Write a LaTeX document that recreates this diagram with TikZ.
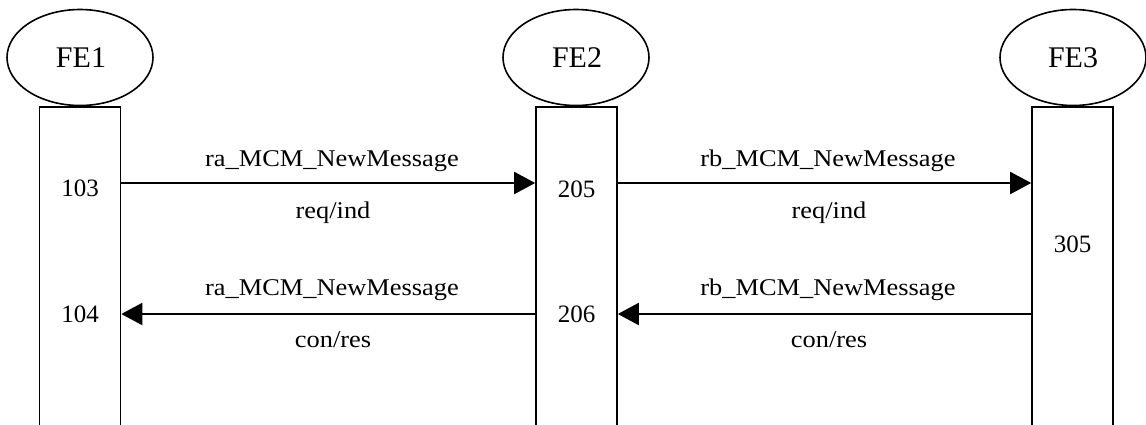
\documentclass[tikz,border=0pt]{standalone}
\usepackage{fontspec}
\setmainfont{Liberation Serif}
\usetikzlibrary{arrows.meta,shapes.geometric}
\begin{document}
\begin{tikzpicture}[x=1pt,y=-1pt,
  fe/.style={draw,ellipse,line width=1.6pt,minimum width=146pt,minimum height=96pt,inner sep=0pt},
  lane/.style={draw,line width=1.6pt,minimum width=81pt,minimum height=340pt,inner sep=0pt,anchor=north},
  fetext/.style={font=\fontsize{30}{30}\selectfont,anchor=base},
  num/.style={font=\fontsize{25}{25}\selectfont,anchor=base},
  lbl/.style={font=\fontsize{24}{24}\selectfont,anchor=base,xscale=1.1},
  msg/.style={line width=2pt,-{Triangle[length=21pt,width=22pt]}}]
\useasboundingbox (0,0) rectangle (1146,424);
\begin{scope}
\clip (0,0) rectangle (1146,424);
\node[lane] (L1) at (80,106) {};
\node[lane] (L2) at (576.5,106) {};
\node[lane] (L3) at (1072.5,106) {};
\end{scope}
\node[fe] (E1) at (80,57.5) {};
\node[fe] (E2) at (576,57.5) {};
\node[fe] (E3) at (1073,57.5) {};
\node[fetext] (T1) at (81,67) {FE1};
\node[fetext] (T2) at (577,67) {FE2};
\node[fetext] (T3) at (1073,67) {FE3};
\node[num] (n103) at (80,196) {103};
\node[num] (n104) at (80,322) {104};
\node[num] (n205) at (576.5,197) {205};
\node[num] (n206) at (576.5,322) {206};
\node[num] (n305) at (1072.5,252) {305};
\coordinate (a1) at (L1.east |- 0,183);
\coordinate (a2) at (L2.west |- 0,183);
\coordinate (b1) at (L2.east |- 0,183);
\coordinate (b2) at (L3.west |- 0,183);
\coordinate (c1) at (L2.west |- 0,314);
\coordinate (c2) at (L1.east |- 0,314);
\coordinate (d1) at (L3.west |- 0,314);
\coordinate (d2) at (L2.east |- 0,314);
\draw[msg] (a1) -- (a2);
\draw[msg] (b1) -- (b2);
\draw[msg] (c1) -- (c2);
\draw[msg] (d1) -- (d2);
\node[lbl] (m1) at (332,166) {ra\_MCM\_NewMessage};
\node[lbl] (m1b) at (333,218) {req/ind};
\node[lbl] (m2) at (828,166) {rb\_MCM\_NewMessage};
\node[lbl] (m2b) at (829,218) {req/ind};
\node[lbl] (m3) at (332,295) {ra\_MCM\_NewMessage};
\node[lbl] (m3b) at (333,347) {con/res};
\node[lbl] (m4) at (828,295) {rb\_MCM\_NewMessage};
\node[lbl] (m4b) at (829,347) {con/res};
\end{tikzpicture}
\end{document}
